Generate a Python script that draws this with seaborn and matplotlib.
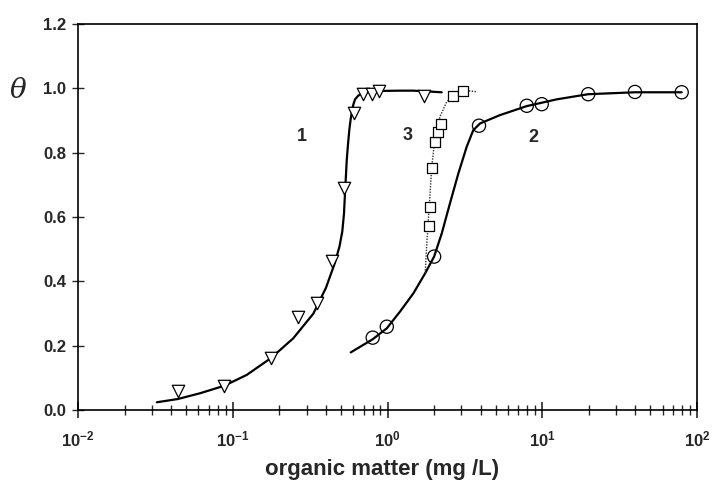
import numpy as np
import pandas as pd
import matplotlib
matplotlib.use("Agg")
import matplotlib.pyplot as plt
import seaborn as sns
from matplotlib.ticker import LogLocator, FixedLocator, FuncFormatter

# ---- data ----
# series 1 (open down-triangles)
s1_x = [0.044, 0.0877, 0.176, 0.265, 0.352, 0.44, 0.526, 0.61, 0.698, 0.79, 0.88, 1.73]
s1_y = [0.06, 0.075, 0.161, 0.29, 0.334, 0.463, 0.691, 0.922, 0.984, 0.984, 0.993, 0.976]
c1_x = [0.0323, 0.044, 0.0614, 0.0877, 0.123, 0.176, 0.246, 0.332, 0.40, 0.455, 0.489,
        0.510, 0.523, 0.531, 0.538, 0.545, 0.555, 0.566, 0.578, 0.590, 0.603, 0.617,
        0.645, 0.681, 0.75, 0.851, 1.205, 1.47, 2.24]
c1_y = [0.024, 0.034, 0.052, 0.075, 0.109, 0.161, 0.223, 0.300, 0.380, 0.455, 0.508,
        0.555, 0.610, 0.674, 0.725, 0.777, 0.825, 0.870, 0.905, 0.933, 0.952, 0.966,
        0.977, 0.984, 0.989, 0.992, 0.993, 0.993, 0.988]

# series 3 (open squares)
s3_x = [1.84, 1.88, 1.95, 2.03, 2.13, 2.21, 2.64, 3.06]
s3_y = [0.572, 0.632, 0.751, 0.834, 0.865, 0.888, 0.976, 0.993]
c3_x = [1.75, 1.80, 1.86, 1.93, 2.03, 2.18, 2.41, 2.73, 3.25, 3.73]
c3_y = [0.425, 0.53, 0.632, 0.756, 0.850, 0.912, 0.958, 0.984, 0.993, 0.990]

# series 2 (open circles)
s2_x = [0.802, 0.989, 2.0, 3.90, 7.94, 9.92, 19.8, 39.7, 79.6]
s2_y = [0.225, 0.259, 0.477, 0.884, 0.946, 0.951, 0.982, 0.989, 0.988]
c2_x = [0.578, 0.802, 0.989, 1.204, 1.47, 1.75, 2.0, 2.24, 2.53, 2.87, 3.25, 3.58,
        3.96, 5.33, 7.94, 12.4, 19.8, 39.7, 79.6]
c2_y = [0.179, 0.220, 0.254, 0.306, 0.363, 0.425, 0.477, 0.549, 0.642, 0.736, 0.819,
        0.870, 0.891, 0.917, 0.945, 0.966, 0.982, 0.988, 0.988]

labels = ["1", "3", "2"]
label_x = [0.281, 1.34, 8.76]
label_y = [0.852, 0.855, 0.848]

y_ticks = [0.0, 0.2, 0.4, 0.6, 0.8, 1.0, 1.2]
x_decades = [0.01, 0.1, 1, 10, 100]

# ---- plotting ----
sns.set_style("ticks")
plt.rcParams['font.family'] = ['Liberation Sans', 'DejaVu Sans']
plt.rcParams['mathtext.fontset'] = 'custom'
plt.rcParams['mathtext.rm'] = 'Liberation Sans:bold'
plt.rcParams['mathtext.bf'] = 'Liberation Sans:bold'

fig = plt.figure(figsize=(7.16, 4.82), dpi=100)
ax = fig.add_axes([0.109, 0.1494, 0.8645, 0.8006])

c1 = pd.DataFrame({"x": c1_x, "y": c1_y})
c2 = pd.DataFrame({"x": c2_x, "y": c2_y})
c3 = pd.DataFrame({"x": c3_x, "y": c3_y})
sns.lineplot(data=c1, x="x", y="y", ax=ax, color="black", lw=1.6, sort=False, estimator=None)
sns.lineplot(data=c2, x="x", y="y", ax=ax, color="black", lw=1.6, sort=False, estimator=None)
sns.lineplot(data=c3, x="x", y="y", ax=ax, color="#333333", lw=1.0, ls=(0, (1, 1)),
             sort=False, estimator=None)

p1 = pd.DataFrame({"x": s1_x, "y": s1_y})
p2 = pd.DataFrame({"x": s2_x, "y": s2_y})
p3 = pd.DataFrame({"x": s3_x, "y": s3_y})
sns.scatterplot(data=p1, x="x", y="y", ax=ax, marker="v", s=80, facecolor="white",
                edgecolor="black", linewidth=0.9, zorder=3)
sns.scatterplot(data=p2, x="x", y="y", ax=ax, marker="o", s=90, facecolor="none",
                edgecolor="black", linewidth=0.9, zorder=3)
sns.scatterplot(data=p3, x="x", y="y", ax=ax, marker="s", s=50, facecolor="white",
                edgecolor="black", linewidth=0.9, zorder=3)

for t, lx, ly in zip(labels, label_x, label_y):
    ax.text(lx, ly, t, fontsize=13, fontweight="bold", ha="center", va="center")

ax.set_xscale("log")
ax.set_xlim(0.01, 100)
ax.set_ylim(0, 1.2)
ax.xaxis.set_major_locator(FixedLocator(x_decades))
ax.xaxis.set_minor_locator(LogLocator(base=10, subs=np.arange(2, 10), numticks=20))
ax.xaxis.set_minor_formatter(FuncFormatter(lambda v, p: ""))
ax.xaxis.set_major_formatter(FuncFormatter(
    lambda v, p: r"$\mathbf{10^{%d}}$" % int(round(np.log10(v)))))
ax.set_yticks(y_ticks)
ax.set_yticklabels([f"{v:.1f}" for v in y_ticks], fontweight="bold", fontsize=12)
for lab in ax.get_xticklabels():
    lab.set_fontsize(12)

ax.tick_params(axis="x", which="major", direction="inout", length=12, width=1.2, pad=8)
ax.tick_params(axis="x", which="minor", direction="inout", length=7, width=1.0)
ax.tick_params(axis="y", which="major", direction="inout", length=9, width=1.0, pad=4)

for sp in ax.spines.values():
    sp.set_linewidth(1.2)
    sp.set_color("black")

ax.set_xlabel("")
ax.set_ylabel("")
fig.text(0.534, 0.014, "organic matter (mg /L)", fontsize=16, fontweight="bold",
         ha="center", va="baseline")
fig.text(0.025, 0.813, r"$\theta$", fontsize=20, ha="center", va="center",
         family="DejaVu Serif", math_fontfamily="dejavuserif")

fig.savefig("out.png", dpi=100)
